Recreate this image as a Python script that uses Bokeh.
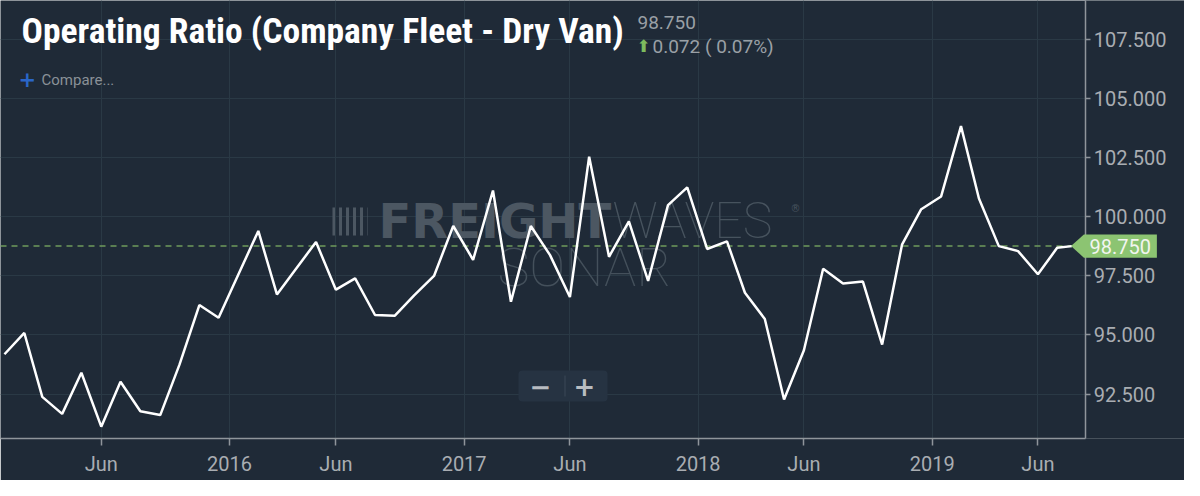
from datetime import datetime
from bokeh.plotting import figure
from bokeh.models import (Range1d, FixedTicker, NumeralTickFormatter, Span, Label,
                          BoxAnnotation, PolyAnnotation, ColumnDataSource)
from bokeh.embed import file_html
from bokeh.resources import INLINE

# ---------------- data ----------------
dates = [
    "2015-01-15", "2015-02-15", "2015-03-15", "2015-04-15", "2015-05-15", "2015-06-15",
    "2015-07-15", "2015-08-15", "2015-09-15", "2015-10-15", "2015-11-15", "2015-12-15",
    "2016-01-15", "2016-02-15", "2016-03-15", "2016-04-15", "2016-05-15", "2016-06-15",
    "2016-07-15", "2016-08-15", "2016-09-15", "2016-10-15", "2016-11-15", "2016-12-15",
    "2017-01-15", "2017-02-15", "2017-03-15", "2017-04-15", "2017-05-15", "2017-06-15",
    "2017-07-15", "2017-08-15", "2017-09-15", "2017-10-15", "2017-11-15", "2017-12-15",
    "2018-01-15", "2018-02-15", "2018-03-15", "2018-04-15", "2018-05-15", "2018-06-15",
    "2018-07-15", "2018-08-15", "2018-09-15", "2018-10-15", "2018-11-15", "2018-12-15",
    "2019-01-15", "2019-02-15", "2019-03-15", "2019-04-15", "2019-05-15", "2019-06-15",
    "2019-07-15", "2019-08-07",
]
operating_ratio = [
    94.18, 95.08, 92.38, 91.66, 93.40, 91.12, 93.02, 91.77, 91.61, 93.74, 96.26, 95.72,
    97.56, 99.39, 96.71, 97.84, 98.92, 96.91, 97.39, 95.84, 95.81, 96.67, 97.49, 99.60,
    98.17, 101.10, 96.40, 99.60, 98.37, 96.60, 102.53, 98.30, 99.80, 97.28, 100.48, 101.23,
    98.63, 98.95, 96.78, 95.67, 92.27, 94.35, 97.79, 97.17, 97.25, 94.59, 98.81, 100.31,
    100.85, 103.82, 100.76, 98.75, 98.54, 97.56, 98.678, 98.750,
]
x_tick_dates = ["2015-06-15", "2016-01-01", "2016-06-15", "2017-01-01", "2017-06-15",
                "2018-01-01", "2018-06-15", "2019-01-01", "2019-06-15"]
x_tick_labels = ["Jun", "2016", "Jun", "2017", "Jun", "2018", "Jun", "2019", "Jun"]
y_ticks = [92.5, 95.0, 97.5, 100.0, 102.5, 105.0, 107.5]

title_text = "Operating Ratio (Company Fleet - Dry Van)"
last_value = operating_ratio[-1]
change = operating_ratio[-1] - operating_ratio[-2]
change_pct = change / operating_ratio[-2] * 100

# ---------------- helpers ----------------
EPOCH = datetime(1970, 1, 1)


def to_dt(s):
    return datetime.strptime(s, "%Y-%m-%d")


def to_ms(d):
    return (d - EPOCH).total_seconds() * 1000.0


xs = [to_dt(d) for d in dates]
src = ColumnDataSource(dict(x=xs, y=operating_ratio))

BG = "#1f2a37"
GRID = "#2a3945"
AXIS = "#8f959b"
LABEL = "#a9adb2"
GREEN = "#8cc472"
THIN = "'Roboto Thin', 'Lato Hairline', 'Roboto Light', 'Lato Light', 'DejaVu Sans Light', sans-serif"

W, H = 1184, 480
BOTTOM = 42
FRAME_H = H - BOTTOM
X0, X1 = datetime(2015, 1, 8, 20), datetime(2020, 1, 29, 15)
Y0, Y1 = 90.62, 109.13
AXIS_AT = to_ms(datetime(2019, 8, 28, 17))

p = figure(width=W, height=H, output_backend="svg", toolbar_location=None,
           x_axis_type="datetime", y_axis_location="right",
           x_range=Range1d(X0, X1), y_range=Range1d(Y0, Y1),
           min_border_left=0, min_border_top=0, min_border_right=0,
           min_border_bottom=BOTTOM)

p.background_fill_color = BG
p.border_fill_color = BG
p.outline_line_color = None

# axes
p.xaxis.ticker = FixedTicker(ticks=[to_ms(to_dt(d)) for d in x_tick_dates])
p.xaxis.major_label_overrides = {to_ms(to_dt(d)): lab for d, lab in zip(x_tick_dates, x_tick_labels)}
p.xaxis.bounds = (to_ms(X0), AXIS_AT)
p.yaxis.ticker = FixedTicker(ticks=y_ticks)
p.yaxis.formatter = NumeralTickFormatter(format="0.000")
p.yaxis.fixed_location = AXIS_AT

for ax in (p.xaxis, p.yaxis):
    ax.axis_line_color = AXIS
    ax.axis_line_width = 1.5
    ax.major_tick_line_color = AXIS
    ax.major_tick_line_width = 1.5
    ax.major_tick_in = 0
    ax.minor_tick_line_color = None
    ax.major_label_text_color = LABEL
    ax.major_label_text_font = "Roboto"
    ax.major_label_text_font_size = "20px"
p.xaxis.major_tick_out = 7
p.xaxis.major_label_standoff = 6
p.yaxis.major_tick_out = 5
p.yaxis.major_label_standoff = 3

p.grid.grid_line_color = GRID
p.grid.grid_line_width = 1

# ---------------- watermark ----------------
WM = "#4c5762"
WM2 = "#47535e"
p.add_layout(BoxAnnotation(left=332, right=367, bottom=203, top=231,
                           left_units="screen", right_units="screen",
                           bottom_units="screen", top_units="screen",
                           fill_color=None, line_color=None,
                           hatch_pattern="vertical_line", hatch_color=WM,
                           hatch_scale=7, hatch_weight=3, level="underlay"))
p.add_layout(Label(x=378, y=218, x_units="screen", y_units="screen", text="FREIGHT",
                   text_font="DejaVu Sans", text_font_style="bold", text_font_size="48px",
                   text_color=WM, text_baseline="alphabetic", level="underlay"))
p.add_layout(Label(x=612, y=218, x_units="screen", y_units="screen", text="WAVES",
                   text_font=THIN, text_font_size="50px",
                   text_color=WM2, text_baseline="alphabetic", level="underlay"))
p.add_layout(Label(x=790, y=230, x_units="screen", y_units="screen", text="®",
                   text_font="DejaVu Sans", text_font_size="10px",
                   text_color=WM2, text_baseline="alphabetic", level="underlay"))
p.add_layout(Label(x=584, y=171, x_units="screen", y_units="screen", text="SONAR",
                   text_font=THIN, text_font_size="54px", text_align="center",
                   text_color="#44505b", text_baseline="alphabetic", level="underlay"))

# ---------------- series ----------------
p.add_layout(Span(location=last_value, dimension="width", line_color="#6f9b5c",
                  line_dash="6 5", line_width=1.5, level="underlay"))
# hide grid / span to the right of the value axis
p.add_layout(BoxAnnotation(left=AXIS_AT, fill_color=BG, fill_alpha=1, line_color=None,
                           level="underlay"))
p.line("x", "y", source=src, line_color="white", line_width=2.5)

# price tag on the value axis
half = 11.6 * (Y1 - Y0) / FRAME_H
p.add_layout(PolyAnnotation(xs=[1070.5, 1083.4, 1156.4, 1156.4, 1083.4],
                            ys=[last_value, last_value + half, last_value + half,
                                last_value - half, last_value - half],
                            xs_units="screen", ys_units="data",
                            fill_color=GREEN, fill_alpha=1, line_color=None))
p.add_layout(Label(x=1089, y=last_value, x_units="screen", text=f"{last_value:.3f}",
                   text_font="Roboto", text_font_size="20px", text_color="#f2f5f0",
                   text_baseline="middle"))

# title block
p.add_layout(Label(x=21, y=407.5, x_units="screen", y_units="screen", text=title_text,
                   text_font="'Roboto Condensed', 'Open Sans Condensed', 'Noto Sans Condensed', 'DejaVu Sans Condensed', sans-serif",
                   text_font_style="bold",
                   text_font_size="35.5px", text_color="white", text_baseline="alphabetic"))
p.add_layout(Label(x=637, y=416, x_units="screen", y_units="screen", text=f"{last_value:.3f}",
                   text_font="Roboto", text_font_size="19px", text_color="#9aa0a6",
                   text_baseline="alphabetic"))
p.add_layout(Label(x=636, y=393, x_units="screen", y_units="screen", text="⬆",
                   text_font="DejaVu Sans", text_font_size="17px", text_color="#7dbb5e",
                   text_baseline="alphabetic"))
p.add_layout(Label(x=652, y=392.5, x_units="screen", y_units="screen",
                   text=f"{change:.3f} ( {change_pct:.2f}%)",
                   text_font="Roboto", text_font_size="19px", text_color="#9aa0a6",
                   text_baseline="alphabetic"))
p.add_layout(Label(x=18, y=360, x_units="screen", y_units="screen", text="+",
                   text_font="DejaVu Sans", text_font_style="bold", text_font_size="21px",
                   text_color="#2a66c8", text_baseline="alphabetic"))
p.add_layout(Label(x=41, y=359, x_units="screen", y_units="screen", text="Compare...",
                   text_font="Roboto", text_font_size="15px", text_color="#8a9197",
                   text_baseline="alphabetic"))

# zoom buttons
p.add_layout(BoxAnnotation(left=518, right=607, bottom=37, top=68,
                           left_units="screen", right_units="screen",
                           bottom_units="screen", top_units="screen",
                           fill_color="#263342", fill_alpha=1, line_color=None,
                           border_radius=4))
p.add_layout(BoxAnnotation(left=564, right=565, bottom=42, top=63,
                           left_units="screen", right_units="screen",
                           bottom_units="screen", top_units="screen",
                           fill_color="#3b4856", fill_alpha=1, line_color=None))
p.add_layout(Label(x=540, y=53, x_units="screen", y_units="screen", text="−",
                   text_font="DejaVu Sans", text_font_style="bold", text_font_size="26px",
                   text_color="#b8bcc0", text_baseline="middle", text_align="center"))
p.add_layout(Label(x=584, y=53, x_units="screen", y_units="screen", text="+",
                   text_font="DejaVu Sans", text_font_style="bold", text_font_size="26px",
                   text_color="#b8bcc0", text_baseline="middle", text_align="center"))

open("out.html", "w").write(file_html(p, INLINE))
